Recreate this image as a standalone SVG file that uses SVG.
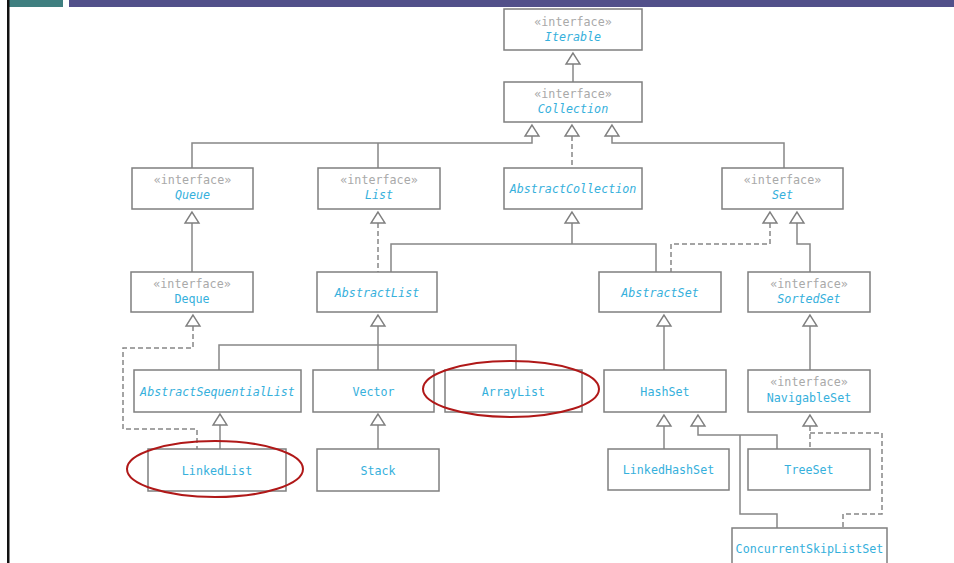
<svg xmlns="http://www.w3.org/2000/svg" width="954" height="563" viewBox="0 0 954 563">
  <style>
    .box { fill: #ffffff; stroke: #7f7f7f; stroke-width: 1.5; }
    .ln { fill: none; stroke: #878787; stroke-width: 1.5; }
    .dash { stroke-dasharray: 5 3; }
    .tri { fill: #ffffff; stroke: #7f7f7f; stroke-width: 1.4; stroke-linejoin: miter; }
    text { font-family: "DejaVu Sans Mono", "Liberation Mono", monospace; font-size: 11.7px; text-anchor: middle; }
    .st { fill: #a9a9a9; }
    .nm { fill: #36b0dc; }
    .it { font-style: italic; }
    .mark { fill: none; stroke: #b01818; stroke-width: 2; }
  </style>
  <defs>
    <!-- hollow generalization head, apex at origin pointing up -->
    <path id="tri" class="tri" d="M0,0 L-7,11 L7,11 Z"/>
  </defs>

  <rect width="954" height="563" fill="#ffffff"/>

  <!-- slide header bars and left rule -->
  <rect x="9" y="0" width="54" height="7" fill="#3f7f80"/>
  <rect x="69" y="0" width="885" height="7" fill="#52508a"/>
  <rect x="7" y="0" width="2.5" height="563" fill="#111111"/>

  <g id="connectors">
    <!-- Collection -> Iterable -->
    <path class="ln" d="M573,64 V82"/>
    <!-- Queue, List -> Collection -->
    <path class="ln" d="M532,136 V143 H192 V168 M378,143 V168"/>
    <!-- AbstractCollection -> Collection -->
    <path class="ln dash" d="M572,136 V168"/>
    <!-- Set -> Collection -->
    <path class="ln" d="M612,136 V143 H784 V168"/>
    <!-- Deque -> Queue -->
    <path class="ln" d="M192,223 V272"/>
    <!-- AbstractList -> List -->
    <path class="ln dash" d="M378,223 V272"/>
    <!-- AbstractList, AbstractSet -> AbstractCollection -->
    <path class="ln" d="M572,223 V244 M391,272 V244 H656 V272"/>
    <!-- AbstractSet -> Set -->
    <path class="ln dash" d="M770,223 V244 H671 V272"/>
    <!-- SortedSet -> Set -->
    <path class="ln" d="M797,223 V244 H810 V272"/>
    <!-- LinkedList -> Deque -->
    <path class="ln dash" d="M193,326 V348 H123 V429 H197 V449"/>
    <!-- subclasses of AbstractList -->
    <path class="ln" d="M378,326 V370 M219,370 V345 H516 V370"/>
    <!-- HashSet -> AbstractSet -->
    <path class="ln" d="M664,326 V370"/>
    <!-- NavigableSet -> SortedSet -->
    <path class="ln" d="M810,326 V370"/>
    <!-- LinkedList -> AbstractSequentialList -->
    <path class="ln" d="M220,425 V449"/>
    <!-- Stack -> Vector -->
    <path class="ln" d="M378,425 V449"/>
    <!-- LinkedHashSet -> HashSet -->
    <path class="ln" d="M664,426 V449"/>
    <!-- TreeSet, ConcurrentSkipListSet -> HashSet -->
    <path class="ln" d="M698,426 V435 H777 V449 M740,435 V514 H777 V528"/>
    <!-- TreeSet, ConcurrentSkipListSet -> NavigableSet -->
    <path class="ln dash" d="M810,426 V449 M810,433 H882 V514 H843 V528"/>

    <!-- arrowheads -->
    <use href="#tri" x="573" y="53"/>
    <use href="#tri" x="532" y="125"/>
    <use href="#tri" x="572" y="125"/>
    <use href="#tri" x="612" y="125"/>
    <use href="#tri" x="192" y="212"/>
    <use href="#tri" x="378" y="212"/>
    <use href="#tri" x="572" y="212"/>
    <use href="#tri" x="770" y="212"/>
    <use href="#tri" x="797" y="212"/>
    <use href="#tri" x="193" y="315"/>
    <use href="#tri" x="378" y="315"/>
    <use href="#tri" x="664" y="315"/>
    <use href="#tri" x="810" y="315"/>
    <use href="#tri" x="220" y="414"/>
    <use href="#tri" x="378" y="414"/>
    <use href="#tri" x="664" y="415"/>
    <use href="#tri" x="698" y="415"/>
    <use href="#tri" x="810" y="415"/>
  </g>

  <g id="Iterable">
    <rect class="box" x="504" y="9" width="138" height="41"/>
    <text class="st" x="573" y="26">«interface»</text>
    <text class="nm it" x="573" y="41">Iterable</text>
  </g>
  <g id="Collection">
    <rect class="box" x="504" y="82" width="138" height="40"/>
    <text class="st" x="573" y="98">«interface»</text>
    <text class="nm it" x="573" y="113">Collection</text>
  </g>
  <g id="Queue">
    <rect class="box" x="132" y="168" width="121" height="41"/>
    <text class="st" x="192.5" y="184">«interface»</text>
    <text class="nm it" x="192.5" y="199">Queue</text>
  </g>
  <g id="List">
    <rect class="box" x="318" y="168" width="122" height="41"/>
    <text class="st" x="379" y="184">«interface»</text>
    <text class="nm it" x="379" y="199">List</text>
  </g>
  <g id="AbstractCollection">
    <rect class="box" x="504" y="168" width="138" height="41"/>
    <text class="nm it" x="573" y="193">AbstractCollection</text>
  </g>
  <g id="Set">
    <rect class="box" x="722" y="168" width="121" height="41"/>
    <text class="st" x="782.5" y="184">«interface»</text>
    <text class="nm it" x="782.5" y="199">Set</text>
  </g>
  <g id="Deque">
    <rect class="box" x="131" y="272" width="122" height="40"/>
    <text class="st" x="192" y="288">«interface»</text>
    <text class="nm" x="192" y="303">Deque</text>
  </g>
  <g id="AbstractList">
    <rect class="box" x="317" y="272" width="120" height="40"/>
    <text class="nm it" x="377" y="297">AbstractList</text>
  </g>
  <g id="AbstractSet">
    <rect class="box" x="599" y="272" width="122" height="40"/>
    <text class="nm it" x="660" y="297">AbstractSet</text>
  </g>
  <g id="SortedSet">
    <rect class="box" x="748" y="272" width="122" height="40"/>
    <text class="st" x="809" y="288">«interface»</text>
    <text class="nm it" x="809" y="303">SortedSet</text>
  </g>
  <g id="AbstractSequentialList">
    <rect class="box" x="134" y="370" width="167" height="42"/>
    <text class="nm it" x="217.5" y="396">AbstractSequentialList</text>
  </g>
  <g id="Vector">
    <rect class="box" x="313" y="370" width="121" height="42"/>
    <text class="nm" x="373.5" y="396">Vector</text>
  </g>
  <g id="ArrayList">
    <rect class="box" x="445" y="370" width="137" height="42"/>
    <text class="nm" x="513.5" y="396">ArrayList</text>
  </g>
  <g id="HashSet">
    <rect class="box" x="604" y="370" width="122" height="42"/>
    <text class="nm" x="665" y="396">HashSet</text>
  </g>
  <g id="NavigableSet">
    <rect class="box" x="748" y="370" width="122" height="42"/>
    <text class="st" x="809" y="386">«interface»</text>
    <text class="nm" x="809" y="402">NavigableSet</text>
  </g>
  <g id="LinkedList">
    <rect class="box" x="148" y="449" width="138" height="42"/>
    <text class="nm" x="217" y="475">LinkedList</text>
  </g>
  <g id="Stack">
    <rect class="box" x="317" y="449" width="122" height="42"/>
    <text class="nm" x="378" y="475">Stack</text>
  </g>
  <g id="LinkedHashSet">
    <rect class="box" x="608" y="449" width="121" height="41"/>
    <text class="nm" x="668.5" y="474">LinkedHashSet</text>
  </g>
  <g id="TreeSet">
    <rect class="box" x="748" y="449" width="122" height="41"/>
    <text class="nm" x="809" y="474">TreeSet</text>
  </g>
  <g id="ConcurrentSkipListSet">
    <rect class="box" x="732" y="528" width="155" height="44"/>
    <text class="nm" x="809.5" y="553">ConcurrentSkipListSet</text>
  </g>

  <!-- hand-drawn highlight rings -->
  <g id="highlights">
    <ellipse class="mark" cx="511" cy="389" rx="88" ry="28"/>
    <ellipse class="mark" cx="215" cy="469" rx="88" ry="28"/>
  </g>
</svg>
